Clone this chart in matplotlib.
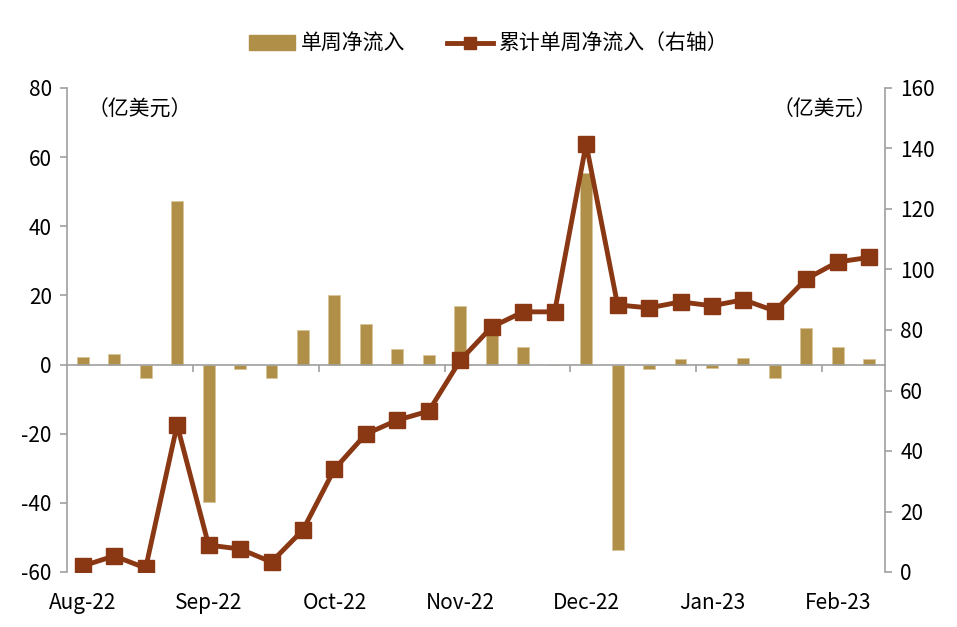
import numpy as np
import matplotlib
matplotlib.use("Agg")
import matplotlib.pyplot as plt
from matplotlib.lines import Line2D
from matplotlib.patches import Patch
import matplotlib.transforms as mtransforms

plt.rcParams['font.family'] = ['Noto Sans CJK SC', 'DejaVu Sans']
plt.rcParams['axes.unicode_minus'] = False

# 每周数据（26周）
weekly_flow = [2.2, 3.2, -4.0, 47.3, -39.8, -1.2, -4.0, 10.0, 20.0, 11.7,
               4.5, 2.8, 16.9, 11.0, 5.0, 0.0, 55.5, -53.5, -1.2, 1.6,
               -1.0, 2.0, -3.8, 10.5, 5.0, 1.5]
cum_flow = [2.0, 5.3, 1.3, 48.6, 8.9, 7.6, 3.3, 13.9, 34.0, 45.6,
            50.2, 53.2, 70.0, 81.0, 86.0, 86.0, 141.5, 88.3, 87.3, 89.3,
            88.0, 90.0, 86.3, 96.9, 102.5, 104.0]
month_labels = ["Aug-22", "Sep-22", "Oct-22", "Nov-22", "Dec-22", "Jan-23", "Feb-23"]
month_pos = [0, 4, 8, 12, 16, 20, 24]

bar_color = '#B09048'
line_color = '#8A3713'
axis_gray = '#A0A0A0'
fs = 15

fig = plt.figure(figsize=(9.57, 6.27), dpi=100)
ax1 = fig.add_axes([67/957, 1-572/627, (885-67)/957, (572-88)/627])
ax2 = ax1.twinx()

x = np.arange(len(weekly_flow))
ax1.bar(x, weekly_flow, width=0.38, color=bar_color, edgecolor='#D8C49A', linewidth=0.6, zorder=2)
ax2.plot(x, cum_flow, color=line_color, linewidth=3.5, marker='s', markersize=11, zorder=3)

ax1.set_xlim(-0.5, len(x) - 0.5)
ax1.set_ylim(-60, 80)
ax2.set_ylim(0, 160)
ax1.set_yticks(np.arange(-60, 81, 20))
ax2.set_yticks(np.arange(0, 161, 20))

# x轴在0处，刻度在每月分界
ax1.spines['bottom'].set_position(('data', 0))
ax1.set_xticks(np.arange(3.5, len(x) - 1, 4))
ax1.set_xticklabels([])
ax1.tick_params(axis='x', direction='out', length=5, color=axis_gray, width=1.2)
for sp in ['top']:
    ax1.spines[sp].set_visible(False)
    ax2.spines[sp].set_visible(False)
ax2.spines['bottom'].set_visible(False)
for sp in ['left', 'bottom']:
    ax1.spines[sp].set_color(axis_gray)
    ax1.spines[sp].set_linewidth(1.2)
ax1.spines['right'].set_visible(False)
ax2.spines['left'].set_visible(False)
ax2.spines['right'].set_color(axis_gray)
ax2.spines['right'].set_linewidth(1.2)
ax1.tick_params(axis='y', direction='out', length=5, color=axis_gray, width=1.2, labelsize=fs, pad=6)
ax2.tick_params(axis='y', direction='out', length=5, color=axis_gray, width=1.2, labelsize=fs, pad=6)

trans = mtransforms.blended_transform_factory(ax1.transData, ax1.transAxes)
for p, lab in zip(month_pos, month_labels):
    ax1.text(p, -0.065, lab, transform=trans, ha='center', va='center', fontsize=fs)

ax1.text(0.025, 0.955, '（亿美元）', transform=ax1.transAxes, ha='left', va='center', fontsize=fs)
ax1.text(0.99, 0.955, '（亿美元）', transform=ax1.transAxes, ha='right', va='center', fontsize=fs)

handles = [Patch(facecolor=bar_color, edgecolor=bar_color),
           Line2D([0], [0], color=line_color, linewidth=3.5, marker='s', markersize=9)]
fig.legend(handles, ['单周净流入', '累计单周净流入（右轴）'], loc='center',
           bbox_to_anchor=(489/957, 1-44/627), ncol=2, frameon=False, fontsize=fs,
           handlelength=2.2, columnspacing=2.0, handletextpad=0.3)

fig.savefig('out.png', dpi=100)
